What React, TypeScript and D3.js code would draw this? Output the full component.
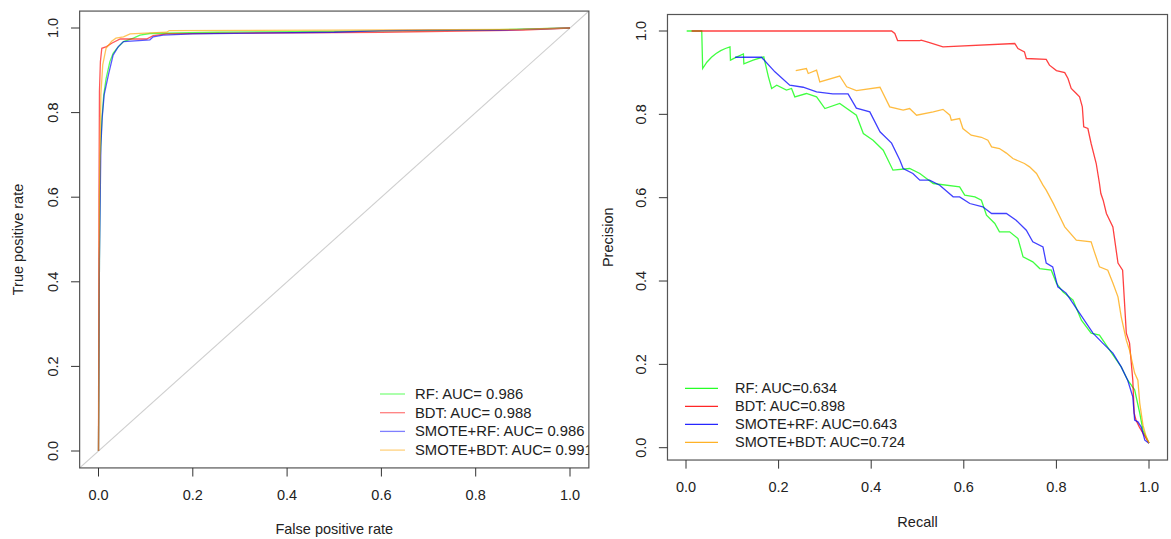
import React from "react";
import * as d3 from "d3";

type Pt = [number, number];

// ---------- ROC data (FPR, TPR) ----------
const rocRF: Pt[] = [[0,0],[0.002,0.45],[0.004,0.7],[0.007,0.78],[0.011,0.84],[0.016,0.88],[0.024,0.92],[0.031,0.94],[0.039,0.952],[0.053,0.968],[0.074,0.976],[0.088,0.983],[0.109,0.987],[0.25,0.99],[0.5,0.992],[0.8,0.995],[1,1]];
const rocBDT: Pt[] = [[0,0],[0.001,0.6],[0.002,0.85],[0.004,0.92],[0.007,0.952],[0.017,0.956],[0.028,0.964],[0.046,0.974],[0.102,0.974],[0.116,0.982],[0.145,0.986],[0.3,0.988],[0.6,0.99],[0.9,0.995],[1,1]];
const rocSRF: Pt[] = [[0,0],[0.002,0.45],[0.005,0.72],[0.008,0.79],[0.012,0.842],[0.021,0.889],[0.031,0.936],[0.042,0.956],[0.053,0.968],[0.109,0.972],[0.116,0.979],[0.137,0.983],[0.2,0.986],[0.5,0.99],[0.6,0.994],[0.7,0.995],[0.85,0.995],[1,1]];
const rocSBDT: Pt[] = [[0,0],[0.002,0.6],[0.005,0.842],[0.009,0.913],[0.016,0.952],[0.028,0.969],[0.037,0.976],[0.053,0.979],[0.067,0.986],[0.145,0.99],[0.15,0.994],[0.5,0.995],[0.9,0.997],[1,1]];

// ---------- PR data (Recall, Precision) ----------
const prRF: Pt[] = [[0.0015,1.0],[0.034,1.0],[0.036,0.91],[0.045,0.925],[0.055,0.937],[0.065,0.946],[0.075,0.953],[0.085,0.958],[0.095,0.962],[0.096,0.93],[0.11,0.938],[0.124,0.945],[0.125,0.921],[0.145,0.93],[0.168,0.938],[0.178,0.89],[0.185,0.862],[0.196,0.87],[0.217,0.858],[0.228,0.862],[0.235,0.842],[0.26,0.85],[0.282,0.842],[0.3,0.814],[0.332,0.826],[0.368,0.798],[0.383,0.754],[0.404,0.738],[0.426,0.714],[0.447,0.666],[0.483,0.67],[0.505,0.658],[0.534,0.634],[0.591,0.626],[0.602,0.606],[0.624,0.602],[0.638,0.594],[0.649,0.558],[0.667,0.538],[0.677,0.518],[0.699,0.518],[0.717,0.502],[0.728,0.458],[0.749,0.446],[0.764,0.43],[0.789,0.426],[0.8,0.395],[0.814,0.374],[0.836,0.354],[0.854,0.306],[0.875,0.275],[0.893,0.27],[0.915,0.234],[0.94,0.194],[0.954,0.162],[0.969,0.139],[0.98,0.083],[0.987,0.042],[1.0,0.011]];
const prBDT: Pt[] = [[0.012,1.0],[0.444,1.0],[0.451,0.994],[0.457,0.977],[0.505,0.977],[0.508,0.978],[0.526,0.972],[0.555,0.962],[0.71,0.97],[0.717,0.958],[0.731,0.95],[0.735,0.934],[0.778,0.932],[0.785,0.918],[0.8,0.905],[0.818,0.9],[0.825,0.886],[0.832,0.862],[0.843,0.85],[0.85,0.842],[0.856,0.818],[0.859,0.77],[0.868,0.766],[0.875,0.73],[0.886,0.682],[0.893,0.634],[0.896,0.61],[0.901,0.594],[0.908,0.562],[0.922,0.53],[0.933,0.443],[0.943,0.426],[0.951,0.275],[0.958,0.251],[0.965,0.162],[0.968,0.083],[0.972,0.066],[0.979,0.05],[0.987,0.035],[1.0,0.011]];
const prSRF: Pt[] = [[0.106,0.937],[0.163,0.937],[0.192,0.902],[0.224,0.87],[0.253,0.865],[0.282,0.854],[0.317,0.849],[0.35,0.849],[0.368,0.815],[0.397,0.806],[0.419,0.758],[0.444,0.731],[0.462,0.69],[0.469,0.67],[0.49,0.658],[0.505,0.642],[0.526,0.642],[0.548,0.63],[0.577,0.602],[0.591,0.602],[0.613,0.586],[0.641,0.578],[0.66,0.562],[0.692,0.562],[0.713,0.546],[0.735,0.522],[0.749,0.494],[0.771,0.482],[0.778,0.443],[0.792,0.434],[0.803,0.386],[0.821,0.371],[0.85,0.323],[0.879,0.275],[0.9,0.251],[0.922,0.227],[0.94,0.194],[0.954,0.162],[0.965,0.122],[0.969,0.066],[0.976,0.062],[0.983,0.05],[0.991,0.018],[1.0,0.011]];
const prSBDT: Pt[] = [[0.237,0.905],[0.26,0.91],[0.264,0.898],[0.282,0.906],[0.289,0.878],[0.332,0.892],[0.347,0.866],[0.368,0.857],[0.419,0.865],[0.44,0.818],[0.469,0.81],[0.483,0.814],[0.498,0.798],[0.534,0.806],[0.555,0.812],[0.57,0.798],[0.573,0.786],[0.591,0.79],[0.598,0.766],[0.616,0.75],[0.638,0.745],[0.652,0.738],[0.66,0.722],[0.677,0.718],[0.692,0.707],[0.706,0.694],[0.731,0.682],[0.742,0.674],[0.757,0.658],[0.771,0.63],[0.778,0.618],[0.793,0.587],[0.804,0.562],[0.818,0.53],[0.843,0.498],[0.875,0.494],[0.882,0.47],[0.893,0.434],[0.911,0.426],[0.922,0.395],[0.933,0.362],[0.94,0.314],[0.951,0.258],[0.958,0.234],[0.969,0.179],[0.976,0.162],[0.98,0.107],[0.987,0.054],[0.994,0.026],[1.0,0.011]];

const seriesColors = ["#00ff00", "#ff0000", "#0000ff", "#ffa500"];
const rocLabels = ["RF: AUC= 0.986", "BDT: AUC= 0.988", "SMOTE+RF: AUC= 0.986", "SMOTE+BDT: AUC= 0.991"];
const prLabels = ["RF: AUC=0.634", "BDT: AUC=0.898", "SMOTE+RF: AUC=0.643", "SMOTE+BDT: AUC=0.724"];
const ticks = [0, 0.2, 0.4, 0.6, 0.8, 1.0];

const FONT = "'Liberation Sans', Arial, Helvetica, sans-serif";
const FS = 14.5;

const xL = d3.scaleLinear().domain([0, 1]).range([98.5, 570]);
const yL = d3.scaleLinear().domain([0, 1]).range([451, 28]);
const xR = d3.scaleLinear().domain([0, 1]).range([686, 1149]);
const yR = d3.scaleLinear().domain([0, 1]).range([447.7, 31]);

function Panel(props: {
  x: d3.ScaleLinear<number, number>;
  y: d3.ScaleLinear<number, number>;
  xDom: [number, number];
  yDom: [number, number];
  data: Pt[][];
  labels: string[];
  xTitle: string;
  yTitle: string;
  id: string;
  diag: boolean;
  legend: { lx0: number; lx1: number; tx: number; y0: number; dy: number; op: number; fs: number };
  yTitleX: number;
  lineOp: number;
}) {
  const { x, y, xDom, yDom, data, labels, xTitle, yTitle, id, diag, legend, yTitleX, lineOp } = props;
  const bx0 = x(xDom[0]), bx1 = x(xDom[1]);
  const by0 = y(yDom[1]), by1 = y(yDom[0]);
  const line = d3.line<Pt>().x((d) => x(d[0])).y((d) => y(d[1]));
  const midY = (by0 + by1) / 2;
  const midX = (x(0) + x(1)) / 2;
  return (
    <g fontFamily={FONT} fontSize={FS} fill="#222">
      <defs>
        <clipPath id={id}>
          <rect x={bx0} y={by0} width={bx1 - bx0} height={by1 - by0} />
        </clipPath>
      </defs>
      <g clipPath={`url(#${id})`}>
        {diag && (
          <line x1={x(xDom[0])} y1={y(xDom[0])} x2={x(xDom[1])} y2={y(xDom[1])} stroke="#cfcfcf" strokeWidth={1.1} />
        )}
        {data.map((d, i) => (
          <path key={i} d={line(d) || ""} fill="none" stroke={seriesColors[i]} strokeWidth={1.3} strokeOpacity={lineOp} />
        ))}
        {labels.map((t, i) => {
          const ly = legend.y0 + i * legend.dy;
          return (
            <g key={t}>
              <line x1={legend.lx0} x2={legend.lx1} y1={ly} y2={ly} stroke={seriesColors[i]} strokeWidth={1.3} strokeOpacity={legend.op} />
              <text x={legend.tx} y={ly} dominantBaseline="central" fill="#222" fontSize={legend.fs}>{t}</text>
            </g>
          );
        })}
      </g>
      <rect x={bx0} y={by0} width={bx1 - bx0} height={by1 - by0} fill="none" stroke="#555" strokeWidth={1.2} />
      {ticks.map((t) => (
        <g key={"x" + t}>
          <line x1={x(t)} x2={x(t)} y1={by1} y2={by1 + 8.6} stroke="#333" strokeWidth={1} />
          <text x={x(t)} y={by1 + 27} textAnchor="middle" dominantBaseline="central">{t.toFixed(1)}</text>
        </g>
      ))}
      {ticks.map((t) => (
        <g key={"y" + t}>
          <line x1={bx0 - 8.6} x2={bx0} y1={y(t)} y2={y(t)} stroke="#333" strokeWidth={1} />
          <text transform={`translate(${bx0 - 26.3},${y(t)}) rotate(-90)`} textAnchor="middle" dominantBaseline="central">{t.toFixed(1)}</text>
        </g>
      ))}
      <text x={midX} y={by1 + 61.5} textAnchor="middle" dominantBaseline="central">{xTitle}</text>
      <text transform={`translate(${yTitleX},${midY}) rotate(-90)`} textAnchor="middle" dominantBaseline="central">{yTitle}</text>
    </g>
  );
}

export default function App() {
  return (
    <svg width={1171} height={539} style={{ position: "absolute", left: 0, top: 0, background: "#fff" }}>
      <rect x={0} y={0} width={1171} height={539} fill="#fff" />
      <Panel
        x={xL}
        y={yL}
        xDom={[-0.04, 1.04]}
        yDom={[-0.04, 1.04]}
        data={[rocRF, rocBDT, rocSRF, rocSBDT]}
        labels={rocLabels}
        xTitle="False positive rate"
        yTitle="True positive rate"
        id="clipL"
        diag={true}
        legend={{ lx0: 380, lx1: 405, tx: 415, y0: 394, dy: 18.7, op: 0.5, fs: 14.8 }}
        yTitleX={18}
        lineOp={0.65}
      />
      <Panel
        x={xR}
        y={yR}
        xDom={[-0.04, 1.04]}
        yDom={[0.01 - 0.0396, 1.0396]}
        data={[prRF, prBDT, prSRF, prSBDT]}
        labels={prLabels}
        xTitle="Recall"
        yTitle="Precision"
        id="clipR"
        diag={false}
        legend={{ lx0: 685, lx1: 718, tx: 735, y0: 388.3, dy: 18, op: 0.85, fs: 14.5 }}
        yTitleX={608}
        lineOp={0.75}
      />
    </svg>
  );
}
